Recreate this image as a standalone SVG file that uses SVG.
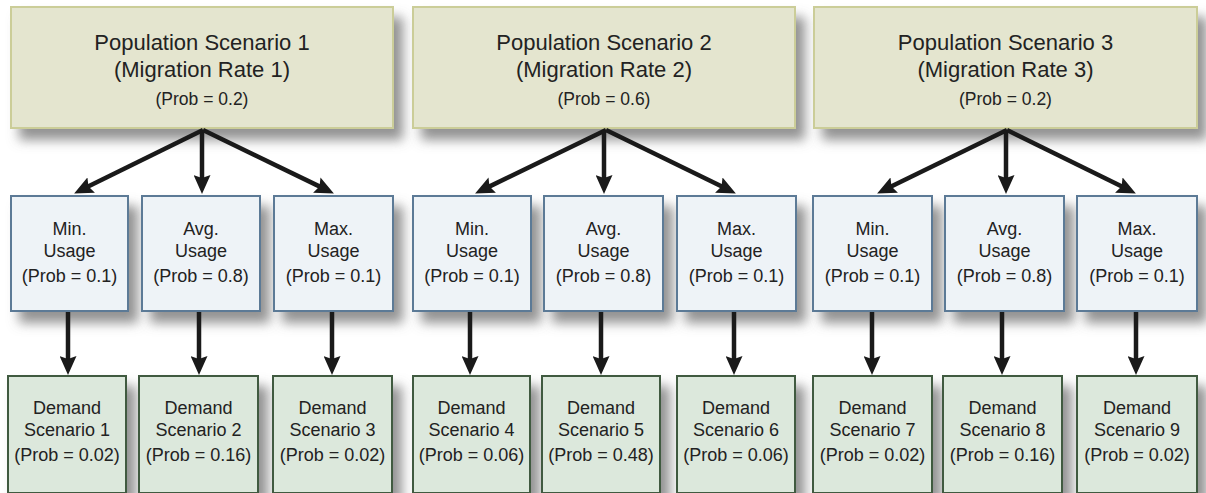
<svg xmlns="http://www.w3.org/2000/svg" width="1206" height="493" viewBox="0 0 1206 493">
<defs>
<filter id="sh" x="-15%" y="-15%" width="140%" height="150%">
<feDropShadow dx="9" dy="11" stdDeviation="6" flood-color="#6e6e6e" flood-opacity="0.75"/>
</filter>
<marker id="ah" markerUnits="userSpaceOnUse" viewBox="0 0 19 17" refX="8" refY="8.5" markerWidth="19" markerHeight="17" orient="auto">
<path d="M0,0 L19,8.5 L0,17 L3,8.5 z" fill="#1a1a1a"/>
</marker>
<style>
.pop rect{fill:#e4e5cf;stroke:#cbcd98;stroke-width:2}
.use rect{fill:#eef3f7;stroke:#5b7a96;stroke-width:2}
.dem rect{fill:#dce8dc;stroke:#3f5a40;stroke-width:2}
text{font-family:"Liberation Sans",Arial,sans-serif;fill:#222;text-anchor:middle}
.t{font-size:22px}
.tp{font-size:17.5px}
.s{font-size:18px}
#connectors line{stroke:#1a1a1a;stroke-width:4.5;marker-end:url(#ah)}
</style>
</defs>
<rect width="1206" height="493" fill="#ffffff"/>

<g id="pop1" class="pop"><rect x="11" y="7" width="382" height="121" filter="url(#sh)"/>
<text class="t" x="202" y="50">Population Scenario 1</text><text class="t" x="202" y="77">(Migration Rate 1)</text><text class="tp" x="202" y="105">(Prob = 0.2)</text></g>
<g id="pop2" class="pop"><rect x="413" y="7" width="382" height="121" filter="url(#sh)"/>
<text class="t" x="604" y="50">Population Scenario 2</text><text class="t" x="604" y="77">(Migration Rate 2)</text><text class="tp" x="604" y="105">(Prob = 0.6)</text></g>
<g id="pop3" class="pop"><rect x="814" y="7" width="383" height="121" filter="url(#sh)"/>
<text class="t" x="1005.5" y="50">Population Scenario 3</text><text class="t" x="1005.5" y="77">(Migration Rate 3)</text><text class="tp" x="1005.5" y="105">(Prob = 0.2)</text></g>

<g id="use1" class="use"><rect x="11" y="196" width="117" height="115" filter="url(#sh)"/>
<text class="s" x="69.5" y="235">Min.</text><text class="s" x="69.5" y="257">Usage</text><text class="s" x="69.5" y="282">(Prob = 0.1)</text></g>
<g id="use2" class="use"><rect x="142" y="196" width="118" height="115" filter="url(#sh)"/>
<text class="s" x="201" y="235">Avg.</text><text class="s" x="201" y="257">Usage</text><text class="s" x="201" y="282">(Prob = 0.8)</text></g>
<g id="use3" class="use"><rect x="274" y="196" width="119" height="115" filter="url(#sh)"/>
<text class="s" x="333.5" y="235">Max.</text><text class="s" x="333.5" y="257">Usage</text><text class="s" x="333.5" y="282">(Prob = 0.1)</text></g>
<g id="use4" class="use"><rect x="413" y="196" width="118" height="115" filter="url(#sh)"/>
<text class="s" x="472" y="235">Min.</text><text class="s" x="472" y="257">Usage</text><text class="s" x="472" y="282">(Prob = 0.1)</text></g>
<g id="use5" class="use"><rect x="544" y="196" width="119" height="115" filter="url(#sh)"/>
<text class="s" x="603.5" y="235">Avg.</text><text class="s" x="603.5" y="257">Usage</text><text class="s" x="603.5" y="282">(Prob = 0.8)</text></g>
<g id="use6" class="use"><rect x="677" y="196" width="119" height="115" filter="url(#sh)"/>
<text class="s" x="736.5" y="235">Max.</text><text class="s" x="736.5" y="257">Usage</text><text class="s" x="736.5" y="282">(Prob = 0.1)</text></g>
<g id="use7" class="use"><rect x="813" y="196" width="119" height="115" filter="url(#sh)"/>
<text class="s" x="872.5" y="235">Min.</text><text class="s" x="872.5" y="257">Usage</text><text class="s" x="872.5" y="282">(Prob = 0.1)</text></g>
<g id="use8" class="use"><rect x="945" y="196" width="119" height="115" filter="url(#sh)"/>
<text class="s" x="1004.5" y="235">Avg.</text><text class="s" x="1004.5" y="257">Usage</text><text class="s" x="1004.5" y="282">(Prob = 0.8)</text></g>
<g id="use9" class="use"><rect x="1077" y="196" width="120" height="115" filter="url(#sh)"/>
<text class="s" x="1137" y="235">Max.</text><text class="s" x="1137" y="257">Usage</text><text class="s" x="1137" y="282">(Prob = 0.1)</text></g>

<g id="dem1" class="dem"><rect x="8" y="376" width="118" height="117" filter="url(#sh)"/>
<text class="s" x="67" y="414">Demand</text><text class="s" x="67" y="436">Scenario 1</text><text class="s" x="67" y="461">(Prob = 0.02)</text></g>
<g id="dem2" class="dem"><rect x="139" y="376" width="119" height="117" filter="url(#sh)"/>
<text class="s" x="198.5" y="414">Demand</text><text class="s" x="198.5" y="436">Scenario 2</text><text class="s" x="198.5" y="461">(Prob = 0.16)</text></g>
<g id="dem3" class="dem"><rect x="273" y="376" width="119" height="117" filter="url(#sh)"/>
<text class="s" x="332.5" y="414">Demand</text><text class="s" x="332.5" y="436">Scenario 3</text><text class="s" x="332.5" y="461">(Prob = 0.02)</text></g>
<g id="dem4" class="dem"><rect x="413" y="376" width="117" height="117" filter="url(#sh)"/>
<text class="s" x="471.5" y="414">Demand</text><text class="s" x="471.5" y="436">Scenario 4</text><text class="s" x="471.5" y="461">(Prob = 0.06)</text></g>
<g id="dem5" class="dem"><rect x="542" y="376" width="118" height="117" filter="url(#sh)"/>
<text class="s" x="601" y="414">Demand</text><text class="s" x="601" y="436">Scenario 5</text><text class="s" x="601" y="461">(Prob = 0.48)</text></g>
<g id="dem6" class="dem"><rect x="677" y="376" width="118" height="117" filter="url(#sh)"/>
<text class="s" x="736" y="414">Demand</text><text class="s" x="736" y="436">Scenario 6</text><text class="s" x="736" y="461">(Prob = 0.06)</text></g>
<g id="dem7" class="dem"><rect x="813" y="376" width="119" height="117" filter="url(#sh)"/>
<text class="s" x="872.5" y="414">Demand</text><text class="s" x="872.5" y="436">Scenario 7</text><text class="s" x="872.5" y="461">(Prob = 0.02)</text></g>
<g id="dem8" class="dem"><rect x="943" y="376" width="119" height="117" filter="url(#sh)"/>
<text class="s" x="1002.5" y="414">Demand</text><text class="s" x="1002.5" y="436">Scenario 8</text><text class="s" x="1002.5" y="461">(Prob = 0.16)</text></g>
<g id="dem9" class="dem"><rect x="1077" y="376" width="120" height="117" filter="url(#sh)"/>
<text class="s" x="1137" y="414">Demand</text><text class="s" x="1137" y="436">Scenario 9</text><text class="s" x="1137" y="461">(Prob = 0.02)</text></g>

<g id="connectors">
<line x1="203" y1="130" x2="84" y2="188.6"/>
<line x1="202" y1="130" x2="202" y2="183"/>
<line x1="203" y1="130" x2="324" y2="188.6"/>
<line x1="606" y1="130" x2="485" y2="188.6"/>
<line x1="604" y1="130" x2="604" y2="183"/>
<line x1="606" y1="130" x2="726" y2="188.6"/>
<line x1="1007" y1="130" x2="887" y2="188.6"/>
<line x1="1006" y1="130" x2="1006" y2="183"/>
<line x1="1007" y1="130" x2="1126" y2="188.6"/>
<line x1="68" y1="312" x2="68" y2="364"/>
<line x1="199" y1="312" x2="199" y2="364"/>
<line x1="332" y1="312" x2="332" y2="364"/>
<line x1="470" y1="312" x2="470" y2="364"/>
<line x1="601" y1="312" x2="601" y2="364"/>
<line x1="734" y1="312" x2="734" y2="364"/>
<line x1="872" y1="312" x2="872" y2="364"/>
<line x1="1002" y1="312" x2="1002" y2="364"/>
<line x1="1136" y1="312" x2="1136" y2="364"/>
</g>
</svg>
